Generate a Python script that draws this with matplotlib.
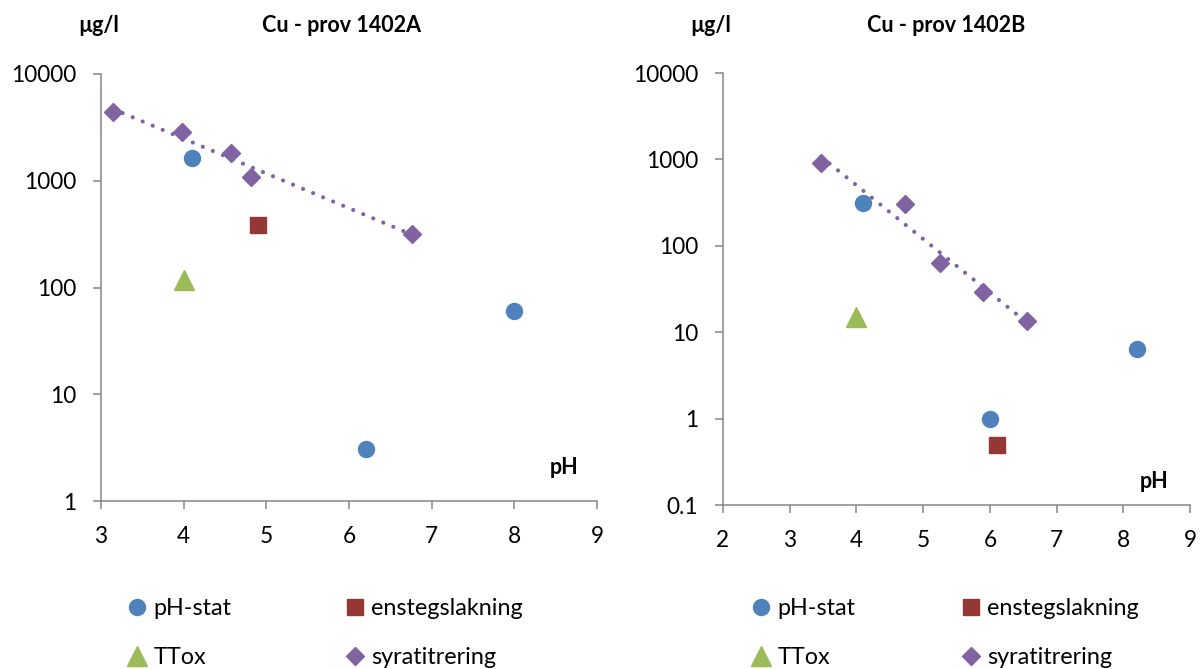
import numpy as np
import matplotlib
matplotlib.use("Agg")
import matplotlib.pyplot as plt
from matplotlib.lines import Line2D
from matplotlib.ticker import FixedLocator, NullLocator, FixedFormatter

plt.rcParams['font.family'] = ['Lato', 'DejaVu Sans']

# ---------------- data ----------------
# Chart A (prov 1402A)
a_phstat_x = [4.10, 6.20, 8.00]
a_phstat_y = [1650, 3.1, 60]
a_enst_x = [4.90]
a_enst_y = [385]
a_ttox_x = [4.00]
a_ttox_y = [118]
a_syra_x = [3.14, 3.98, 4.57, 4.82, 6.76]
a_syra_y = [4450, 2870, 1820, 1080, 320]

# Chart B (prov 1402B)
b_phstat_x = [4.10, 6.00, 8.20]
b_phstat_y = [315, 0.98, 6.4]
b_enst_x = [6.10]
b_enst_y = [0.50]
b_ttox_x = [4.00]
b_ttox_y = [15]
b_syra_x = [3.47, 4.73, 5.25, 5.90, 6.56]
b_syra_y = [905, 303, 63, 29, 13.5]

a_title = "Cu - prov 1402A"
b_title = "Cu - prov 1402B"
unit_label = "µg/l"
x_label = "pH"
a_xticks = [3, 4, 5, 6, 7, 8, 9]
b_xticks = [2, 3, 4, 5, 6, 7, 8, 9]
a_yticks = [1, 10, 100, 1000, 10000]
a_yticklabels = ["1", "10", "100", "1000", "10000"]
b_yticks = [0.1, 1, 10, 100, 1000, 10000]
b_yticklabels = ["0.1", "1", "10", "100", "1000", "10000"]
series_names = ["pH-stat", "enstegslakning", "TTox", "syratitrering"]

# ---------------- style ----------------
C_BLUE = "#4F81BD"
C_RED = "#953735"
C_GREEN = "#9BBB59"
C_PURPLE = "#8064A2"
AXIS_GREY = "#868686"
FS = 16.3
LFS = 16.8
TFS = 15.5

W, H = 1204, 669
fig = plt.figure(figsize=(W / 100, H / 100), dpi=100)

def fx(px):
    return px / W

def fy(py):
    return 1 - py / H

ax1 = fig.add_axes([fx(101), fy(501), fx(597 - 101), (501 - 74) / H])
ax2 = fig.add_axes([fx(723), fy(505), fx(1190 - 723), (505 - 73) / H])

mk = dict(ls="none")
styles = {
    "phstat": dict(marker="o", ms=11.5, color=C_BLUE, mec=C_BLUE),
    "enst": dict(marker="s", ms=11.0, color=C_RED, mec=C_RED),
    "ttox": dict(marker="^", ms=15.0, color=C_GREEN, mec=C_GREEN),
    "syra": dict(marker="D", ms=9.5, color=C_PURPLE, mec=C_PURPLE),
}

def draw(ax, px, py, ex, ey, tx, ty, sx, sy, xlim, ylim, xticks, yticks, yticklabels):
    ax.set_yscale("log")
    # trendline: exponential fit over syratitrering data
    coef = np.polyfit(np.array(sx), np.log10(np.array(sy)), 1)
    xt = np.linspace(min(sx), max(sx), 200)
    ax.plot(xt, 10 ** np.polyval(coef, xt), color=C_PURPLE, lw=3.0,
            ls=(0, (0.01, 2.6)), dash_capstyle="round", zorder=2)
    ax.plot(sx, sy, **styles["syra"], **mk, zorder=3)
    ax.plot(px, py, **styles["phstat"], **mk, zorder=3)
    ax.plot(ex, ey, **styles["enst"], **mk, zorder=3)
    ax.plot(tx, ty, **styles["ttox"], **mk, zorder=3)
    ax.set_xlim(*xlim)
    ax.set_ylim(*ylim)
    ax.xaxis.set_major_locator(FixedLocator(xticks))
    ax.yaxis.set_major_locator(FixedLocator(yticks))
    ax.yaxis.set_major_formatter(FixedFormatter(yticklabels))
    ax.yaxis.set_minor_locator(NullLocator())
    for s in ["top", "right"]:
        ax.spines[s].set_visible(False)
    for s in ["left", "bottom"]:
        ax.spines[s].set_color(AXIS_GREY)
        ax.spines[s].set_linewidth(1.1)
    ax.tick_params(axis="both", which="major", direction="out", length=6,
                   width=1.1, color=AXIS_GREY, labelsize=FS, labelcolor="black")
    ax.tick_params(axis="y", pad=12)
    ax.tick_params(axis="x", pad=12)
    ax.set_facecolor("none")
    for sp in ax.spines.values():
        sp.set_clip_on(False)

draw(ax1, a_phstat_x, a_phstat_y, a_enst_x, a_enst_y, a_ttox_x, a_ttox_y,
     a_syra_x, a_syra_y, (3, 9), (1, 10000), a_xticks, a_yticks, a_yticklabels)
draw(ax2, b_phstat_x, b_phstat_y, b_enst_x, b_enst_y, b_ttox_x, b_ttox_y,
     b_syra_x, b_syra_y, (2, 9), (0.1, 10000), b_xticks, b_yticks, b_yticklabels)

# titles and axis labels
fig.text(fx(78), fy(25), unit_label, fontsize=TFS, fontweight="bold", ha="left", va="center")
fig.text(fx(341), fy(25), a_title, fontsize=TFS, fontweight="bold", ha="center", va="center")
fig.text(fx(690), fy(25), unit_label, fontsize=TFS, fontweight="bold", ha="left", va="center")
fig.text(fx(946), fy(25), b_title, fontsize=TFS, fontweight="bold", ha="center", va="center")
fig.text(fx(564), fy(467), x_label, fontsize=TFS, fontweight="bold", ha="center", va="center")
fig.text(fx(1154), fy(481), x_label, fontsize=TFS, fontweight="bold", ha="center", va="center")

# legends
def handle(key, name):
    return Line2D([], [], ls="none", label=name, **styles[key])

h_ph = handle("phstat", series_names[0])
h_en = handle("enst", series_names[1])
h_tt = handle("ttox", series_names[2])
h_sy = handle("syra", series_names[3])

HL = 0.8
fs_px = LFS * 100 / 72
def col_legend(handles, cx, cy):
    x0 = cx - HL * fs_px / 2
    leg = fig.legend(handles=handles, loc="center left",
                     bbox_to_anchor=(fx(x0), fy(cy)), frameon=False,
                     fontsize=LFS, handlelength=HL, handletextpad=0.3,
                     labelspacing=1.2, borderpad=0, borderaxespad=0,
                     numpoints=1)
    return leg

col_legend([h_ph, h_tt], 137, 633)
col_legend([h_en, h_sy], 355, 633)
col_legend([h_ph, h_tt], 761, 633)
col_legend([h_en, h_sy], 971, 633)

fig.savefig("out.png", dpi=100)
